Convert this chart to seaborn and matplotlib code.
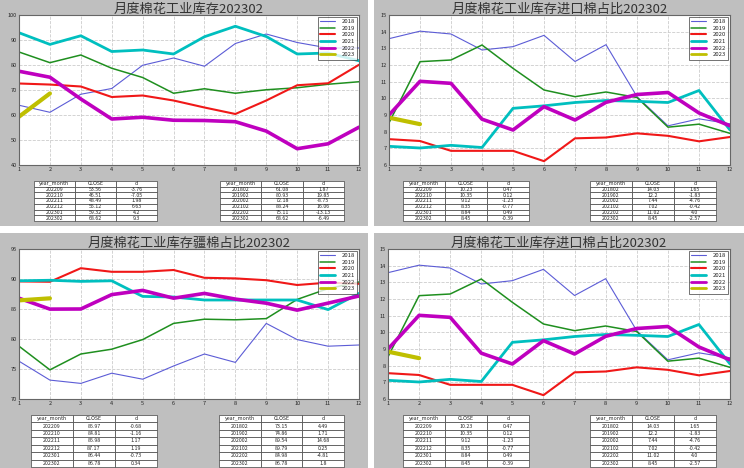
import matplotlib
matplotlib.use('Agg')
import matplotlib.pyplot as plt
import seaborn as sns
import pandas as pd
from matplotlib.patches import Rectangle

sns.set_style('white')
plt.rcParams['font.family'] = ['Noto Sans CJK SC', 'DejaVu Sans']
plt.rcParams['axes.unicode_minus'] = False

months = list(range(1, 13))
years = ['2018', '2019', '2020', '2021', '2022', '2023']

# 月度棉花工业库存
stock_2018 = [63.9, 61.08, 68.3, 70.6, 79.9, 82.8, 79.5, 88.6, 92.4, 89.0, 86.8, 86.8]
stock_2019 = [85.2, 80.93, 84.0, 78.7, 75.0, 68.7, 70.5, 68.7, 70.1, 70.9, 72.3, 73.3]
stock_2020 = [72.6, 72.18, 71.4, 67.2, 67.8, 65.8, 63.0, 60.4, 65.8, 71.9, 72.7, 80.1]
stock_2021 = [92.9, 88.24, 91.7, 85.4, 86.0, 84.4, 91.3, 95.5, 91.4, 84.4, 84.8, 81.7]
stock_2022 = [77.5, 75.11, 66.4, 58.4, 59.1, 57.9, 57.8, 57.32, 53.56, 46.51, 48.49, 55.12]
stock_2023 = [59.32, 68.62]

# 月度棉花工业库存进口棉占比
imp_2018 = [13.58, 14.03, 13.86, 12.9, 13.1, 13.78, 12.21, 13.22, 10.1, 8.35, 8.77, 8.47]
imp_2019 = [8.53, 12.2, 12.3, 13.2, 11.8, 10.5, 10.1, 10.38, 10.05, 8.27, 8.45, 7.9]
imp_2020 = [7.55, 7.44, 6.85, 6.85, 6.85, 6.23, 7.6, 7.65, 7.9, 7.75, 7.42, 7.68]
imp_2021 = [7.12, 7.02, 7.18, 7.05, 9.4, 9.55, 9.75, 9.87, 9.82, 9.75, 10.47, 8.1]
imp_2022 = [9.0, 11.02, 10.9, 8.75, 8.1, 9.5, 8.7, 9.76, 10.23, 10.35, 9.12, 8.35]
imp_2023 = [8.84, 8.45]

# 月度棉花工业库存疆棉占比
xj_2018 = [76.3, 73.15, 72.6, 74.3, 73.3, 75.5, 77.5, 76.1, 82.6, 79.9, 78.8, 79.0]
xj_2019 = [78.8, 74.86, 77.5, 78.3, 79.9, 82.6, 83.3, 83.2, 83.4, 86.6, 88.4, 89.5]
xj_2020 = [89.6, 89.54, 91.8, 91.2, 91.2, 91.5, 90.2, 90.1, 89.8, 89.0, 89.4, 89.2]
xj_2021 = [89.7, 89.79, 89.6, 89.7, 87.1, 87.0, 86.5, 86.5, 86.5, 86.5, 84.9, 87.6]
xj_2022 = [86.8, 84.98, 85.0, 87.4, 88.1, 86.8, 87.6, 86.65, 85.97, 84.81, 85.98, 87.17]
xj_2023 = [86.44, 86.78]

# tables
recent_ym = ['202209', '202210', '202211', '202212', '202301', '202302']
feb_ym = ['201802', '201902', '202002', '202102', '202202', '202302']

stock_recent_close = ['53.56', '46.51', '48.49', '55.12', '59.32', '68.62']
stock_recent_d = ['-3.76', '-7.05', '1.98', '6.63', '4.2', '9.3']
stock_feb_close = ['61.08', '80.93', '72.18', '88.24', '75.11', '68.62']
stock_feb_d = ['1.87', '19.85', '-8.75', '16.06', '-13.13', '-6.49']

imp_recent_close = ['10.23', '10.35', '9.12', '8.35', '8.84', '8.45']
imp_recent_d = ['0.47', '0.12', '-1.23', '-0.77', '0.49', '-0.39']
imp_feb_close = ['14.03', '12.2', '7.44', '7.02', '11.02', '8.45']
imp_feb_d = ['1.65', '-1.83', '-4.76', '-0.42', '4.0', '-2.57']

xj_recent_close = ['85.97', '84.81', '85.98', '87.17', '86.44', '86.78']
xj_recent_d = ['-0.68', '-1.16', '1.17', '1.19', '-0.73', '0.34']
xj_feb_close = ['73.15', '74.86', '89.54', '89.79', '84.98', '86.78']
xj_feb_d = ['4.49', '1.71', '14.68', '0.25', '-4.81', '1.8']

colors = ['#5c5cd6', '#1f8f1f', '#f01818', '#00bfbf', '#bf00bf', '#bfbf00']
widths = [0.8, 1.1, 1.5, 2.0, 2.6, 3.0]

W, H = 744, 468
fig = plt.figure(figsize=(W / 100, H / 100), dpi=100, facecolor='white')


def box(x0, y0, x1, y1):
    return [x0 / W, 1 - y1 / H, (x1 - x0) / W, (y1 - y0) / H]


def draw_table(rect, ym, close, d):
    tax = fig.add_axes(box(*rect))
    tax.axis('off')
    rows = [[a, b, c] for a, b, c in zip(ym, close, d)]
    t = tax.table(cellText=rows, colLabels=['year_month', 'CLOSE', 'd'],
                  cellLoc='center', bbox=[0, 0, 1, 1])
    t.auto_set_font_size(False)
    t.set_fontsize(3.8)
    for cell in t.get_celld().values():
        cell.set_edgecolor('#444444')
        cell.set_linewidth(0.5)
        cell.set_facecolor('white')


def draw_panel(panel, chart, tbl_left, tbl_right, title, series, ylim, yticks,
               recent_close, recent_d, feb_close, feb_d):
    x0, y0, x1, y1 = panel
    fig.patches.append(Rectangle((x0 / W, 1 - y1 / H), (x1 - x0) / W, (y1 - y0) / H,
                                 transform=fig.transFigure, facecolor='#bfbfbf',
                                 edgecolor='none', zorder=-10))
    ax = fig.add_axes(box(*chart))
    ax.set_facecolor('white')
    for yr, vals, c, lw in zip(years, series, colors, widths):
        df = pd.DataFrame({'month': months[:len(vals)], 'value': vals})
        sns.lineplot(data=df, x='month', y='value', ax=ax, color=c, linewidth=lw, label=yr)
    ax.set_xlim(1, 12)
    ax.set_ylim(*ylim)
    ax.set_xticks(months)
    ax.set_yticks(yticks)
    ax.set_xlabel('')
    ax.set_ylabel('')
    ax.grid(True, linestyle='--', color='#cccccc', linewidth=0.6)
    ax.tick_params(labelsize=4, direction='in', length=2, pad=1.5)
    for s in ax.spines.values():
        s.set_color('#666666')
        s.set_linewidth(0.8)
    ax.set_title(title, fontsize=9.5, pad=1.5, color='#333333', fontweight='light')
    leg = ax.legend(loc='upper right', fontsize=4.3, handlelength=2.4, borderpad=0.35,
                    labelspacing=0.25, handletextpad=1.2, borderaxespad=0.3,
                    frameon=True, fancybox=False)
    leg.get_frame().set_edgecolor('#333333')
    leg.get_frame().set_linewidth(0.6)
    for h in leg.get_lines():
        h.set_linewidth(min(h.get_linewidth(), 2.0))
    draw_table(tbl_left, recent_ym, recent_close, recent_d)
    draw_table(tbl_right, feb_ym, feb_close, feb_d)


stock = [stock_2018, stock_2019, stock_2020, stock_2021, stock_2022, stock_2023]
imp = [imp_2018, imp_2019, imp_2020, imp_2021, imp_2022, imp_2023]
xj = [xj_2018, xj_2019, xj_2020, xj_2021, xj_2022, xj_2023]

draw_panel((0, 0, 368, 226), (19, 15, 359, 165), (34, 181, 157, 221), (220, 181, 344, 221),
           '月度棉花工业库存202302', stock, (40, 100), range(40, 101, 10),
           stock_recent_close, stock_recent_d, stock_feb_close, stock_feb_d)
draw_panel((374, 0, 744, 226), (389, 15, 730, 165), (403, 181, 529, 221), (590, 181, 716, 221),
           '月度棉花工业库存进口棉占比202302', imp, (6, 15), range(6, 16),
           imp_recent_close, imp_recent_d, imp_feb_close, imp_feb_d)
draw_panel((0, 233, 368, 468), (19, 249, 359, 399), (31, 415, 157, 467), (219, 415, 344, 467),
           '月度棉花工业库存疆棉占比202302', xj, (70, 95), range(70, 96, 5),
           xj_recent_close, xj_recent_d, xj_feb_close, xj_feb_d)
draw_panel((374, 233, 744, 468), (388, 249, 730, 399), (403, 415, 529, 467), (590, 415, 716, 467),
           '月度棉花工业库存进口棉占比202302', imp, (6, 15), range(6, 16),
           imp_recent_close, imp_recent_d, imp_feb_close, imp_feb_d)

fig.savefig('out.png', dpi=100, facecolor='white')
